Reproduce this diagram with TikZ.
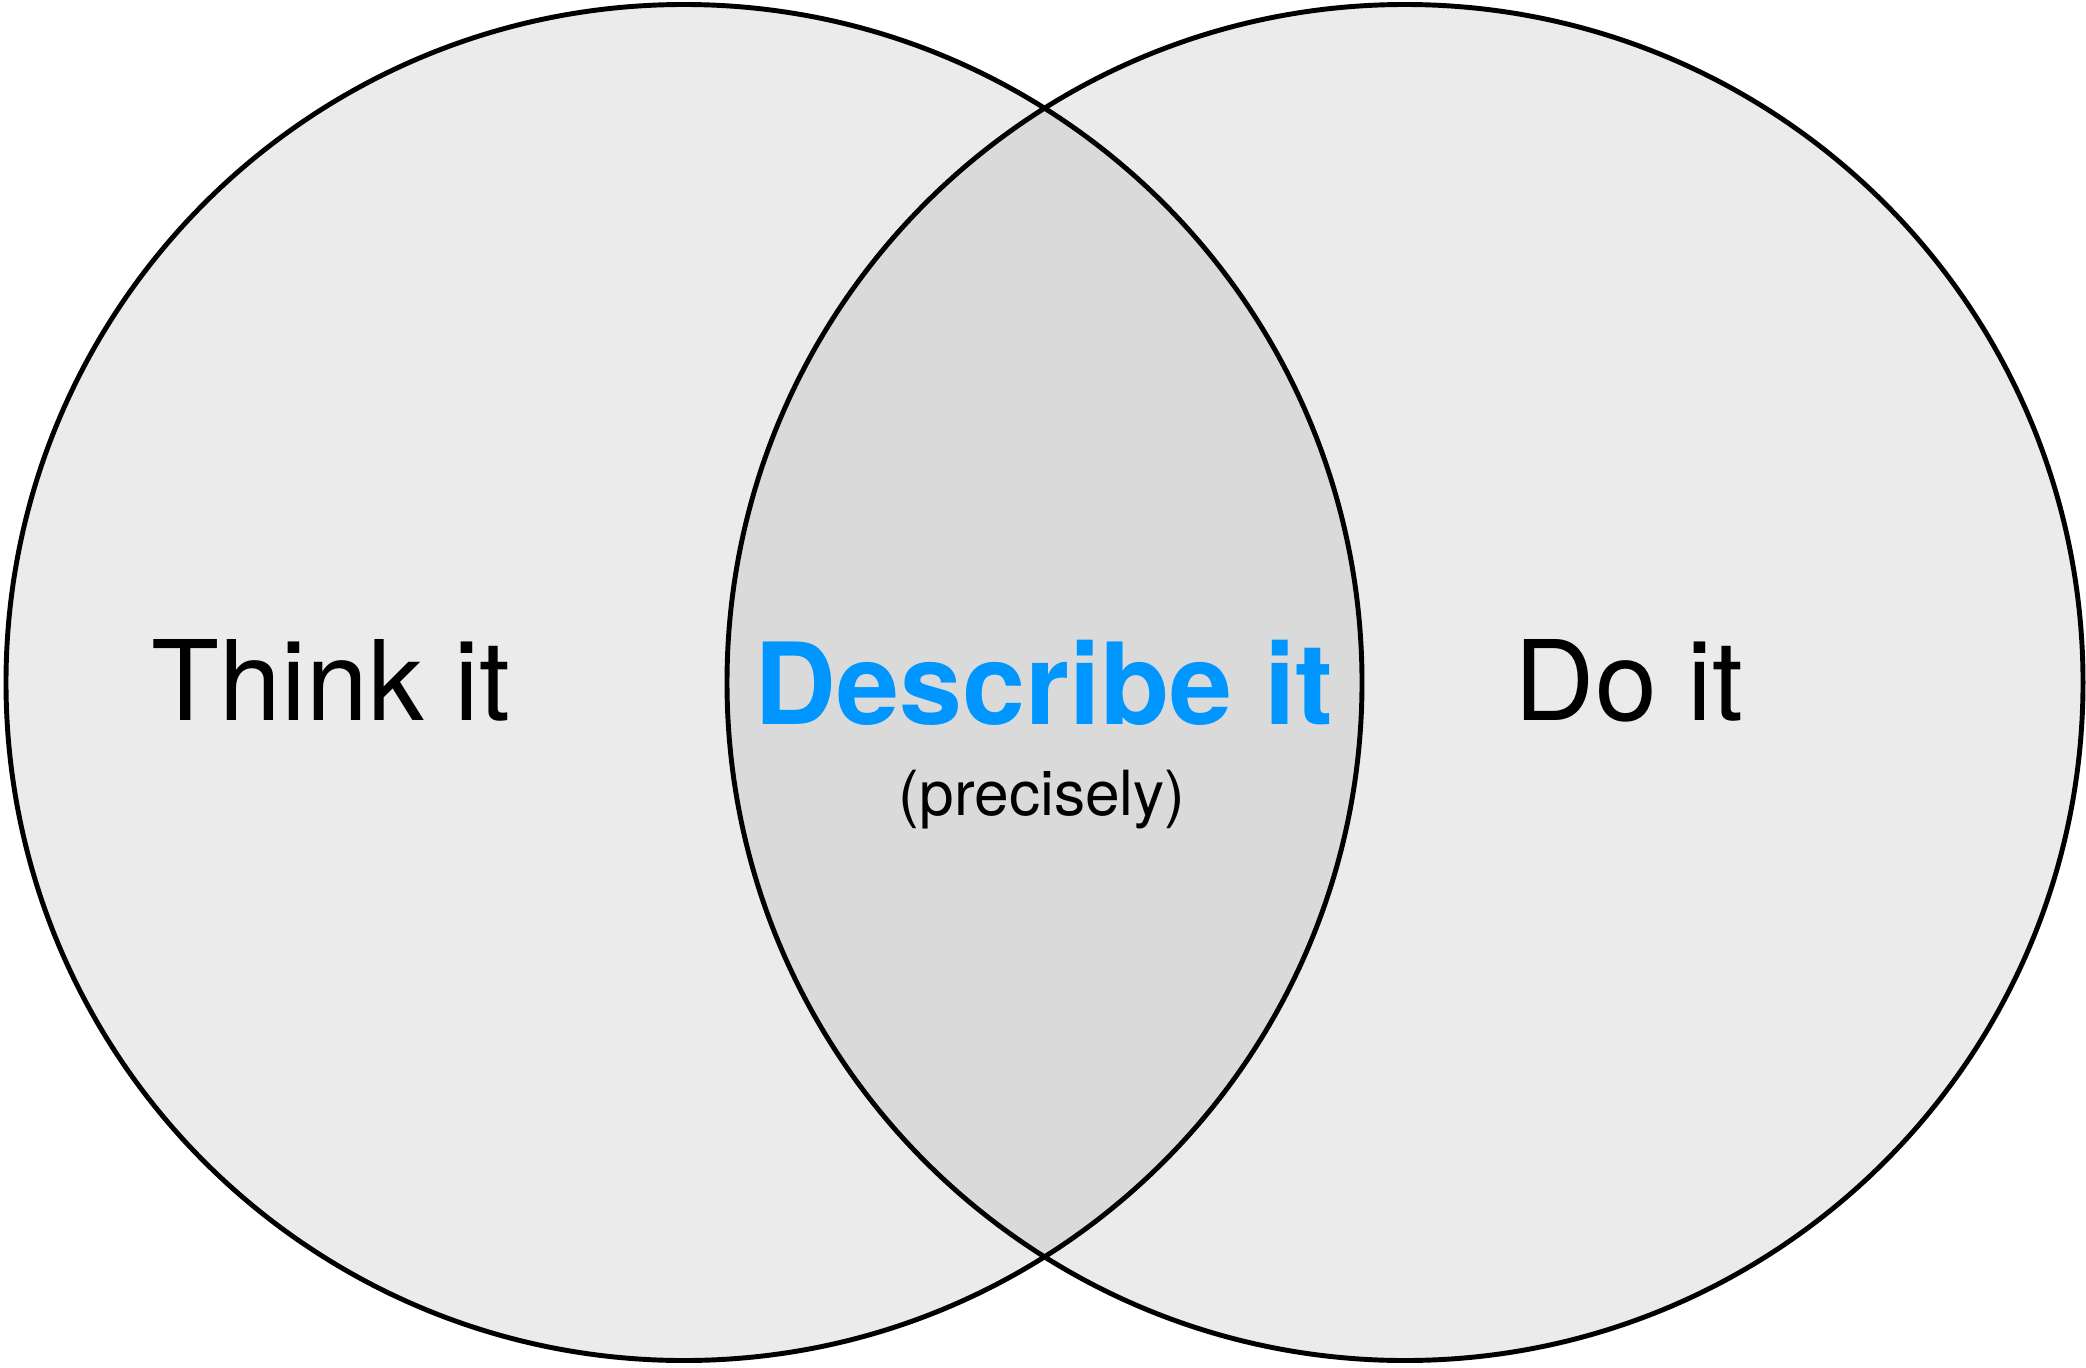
\documentclass[tikz,border=0pt]{standalone}
\usepackage{fontspec}
\setmainfont{TeX Gyre Heros}
\usetikzlibrary{positioning}
\definecolor{cfill}{HTML}{EBEBEB}
\definecolor{clens}{HTML}{DADADA}
\definecolor{cblue}{HTML}{0096FF}
\tikzset{
  every picture/.style={line width=1.4pt},
  set/.style={draw=black, line width=1.4pt},
  label/.style={font=\fontsize{31.6}{38}\selectfont, anchor=base},
  sublabel/.style={font=\fontsize{17.7}{22}\selectfont, anchor=base},
}

\begin{document}
\begin{tikzpicture}[x=0.01cm, y=-0.01cm]
  \useasboundingbox (0,0) rectangle (2086,1367);
  % the two sets
  \fill[cfill] (684,682.5) circle (678);
  \fill[cfill] (1405,682.5) circle (678);
  % overlap
  \begin{scope}
    \clip (684,682.5) circle (678);
    \fill[clens] (1405,682.5) circle (678);
  \end{scope}
  \draw[set] (684,682.5) circle (678);
  \draw[set] (1405,682.5) circle (678);
  % labels
  \node[label] (think) at (331,720) {Think it};
  \node[label, font=\fontsize{32.2}{38}\selectfont\bfseries, text=cblue] (describe) at (1044,724) {Describe it};
  \node[sublabel] (precise) at (1042,815) {(precisely)};
  \node[label] (doit) at (1629,720) {Do it};
\end{tikzpicture}
\end{document}
